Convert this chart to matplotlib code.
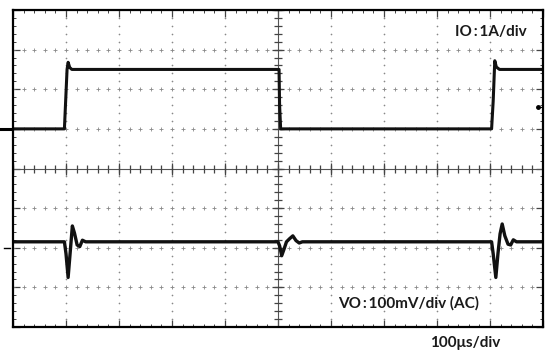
import matplotlib
matplotlib.use("Agg")
import matplotlib.pyplot as plt
import numpy as np

# ---- data (time in microseconds) ----
io_time_us = [0, 97, 99, 102, 104, 107, 111, 502, 503, 505, 903, 906, 909, 912, 918, 1000]
io_amps    = [0, 0, 0.6, 1.5, 1.68, 1.55, 1.5, 1.5, 0.6, 0, 0, 0.7, 1.72, 1.56, 1.5, 1.5]

vo_time_us = [0, 97, 100, 104, 108, 112, 116, 121, 126, 131, 137, 500, 503, 507, 511, 516,
              522, 528, 534, 540, 546, 903, 906, 911, 915, 919, 923, 928, 934, 939, 944, 950, 1000]
vo_mv      = [0, 0, -30, -90, -25, 40, 22, -8, -12, 4, 0, 0, -10, -35, -20, 0,
              8, 15, 3, -3, 0, 0, -30, -90, -30, 20, 45, 15, -6, -8, 5, 0, 0]

io_label = "IO\u2009:\u20091A/div"
vo_label = "VO\u2009:\u2009100mV/div (AC)"
time_label = "100μs/div"

# scope settings
io_scale = 1.0      # A/div
vo_scale = 100.0    # mV/div
io_offset = 1.0     # div
vo_offset = -1.85   # div
vo_ground = -2.0
trig_level = 1.55
t_div = 100.0

plt.rcParams['font.family'] = ['Lato', 'Noto Sans CJK JP', 'DejaVu Sans']

fig = plt.figure(figsize=(5.46, 3.5), dpi=100)
ax = fig.add_axes([13/546, 23/350, 530/546, 317/350])
ax.set_xlim(0, 10 * t_div)
ax.set_ylim(-4, 4)

grid_c = '#888888'
# dotted graticule
for xv in np.arange(1, 10) * t_div:
    if xv == 5 * t_div:
        continue
    ys = np.arange(-4, 4.01, 0.2)
    ax.plot([xv] * len(ys), ys, ls='none', marker='o', ms=1.2, color=grid_c, mew=0)
for yv in range(-3, 4):
    if yv == 0:
        continue
    xs = np.arange(0, 10 * t_div + 1, t_div / 5)
    ax.plot(xs, [yv] * len(xs), ls='none', marker='+', ms=3, mew=0.6, color=grid_c)

# center cross with ticks
ax.axhline(0, color='#555555', lw=0.8)
ax.axvline(5 * t_div, color='#555555', lw=0.8)
xs = np.arange(0, 10 * t_div + 1, t_div / 5)
ax.plot(xs, [0] * len(xs), ls='none', marker='|', ms=6, mew=0.9, color='#444444')
ax.plot(np.arange(0, 10 * t_div + 1, t_div), [0] * 11, ls='none', marker='|', ms=9, mew=0.9, color='#444444')
ys = np.arange(-4, 4.01, 0.2)
ax.plot([5 * t_div] * len(ys), ys, ls='none', marker='_', ms=6, mew=0.9, color='#444444')
ax.plot([5 * t_div] * 9, np.arange(-4, 5), ls='none', marker='_', ms=9, mew=0.9, color='#444444')

# frame ticks
ax.set_xticks(np.arange(0, 10 * t_div + 1, t_div))
ax.set_xticks(np.arange(0, 10 * t_div + 1, t_div / 5), minor=True)
ax.set_yticks(np.arange(-4, 5, 1))
ax.set_yticks(np.arange(-4, 4.01, 0.2), minor=True)
ax.tick_params(which='both', direction='in', top=True, right=True,
               labelbottom=False, labelleft=False, color='#444444')
ax.tick_params(which='major', length=5, width=0.9)
ax.tick_params(which='minor', length=2.5, width=0.7)
for s in ax.spines.values():
    s.set_linewidth(1.6)
    s.set_color('black')

# traces
io_div = np.array(io_amps) / io_scale + io_offset
vo_div = np.array(vo_mv) / vo_scale + vo_offset
ax.plot(io_time_us, io_div, color='#111111', lw=2.2, solid_joinstyle='round')
ax.plot(vo_time_us, vo_div, color='#111111', lw=2.4, solid_joinstyle='round')

# ground / trigger markers
ax.plot([-24, -2], [io_offset, io_offset], color='black', lw=2.2, clip_on=False)
ax.plot([-17, -5], [vo_ground, vo_ground], color='black', lw=1.0, clip_on=False)
ax.plot([990], [trig_level], marker='o', ms=2.5, color='black')
ax.plot([990, 1000], [trig_level, trig_level], color='black', lw=0.8)

fs = 11
fig.text(527/546, 1 - 32/350, io_label, ha='right', va='center', fontsize=fs, weight='bold', color='#1a1a1a')
fig.text(338/546, 1 - 303/350, vo_label, ha='left', va='center', fontsize=fs, weight='bold', color='#1a1a1a')
fig.text(465/546, 1 - 343/350, time_label, ha='center', va='center', fontsize=fs, weight='bold', color='#1a1a1a')

fig.savefig('out.png', dpi=100, facecolor='white')
